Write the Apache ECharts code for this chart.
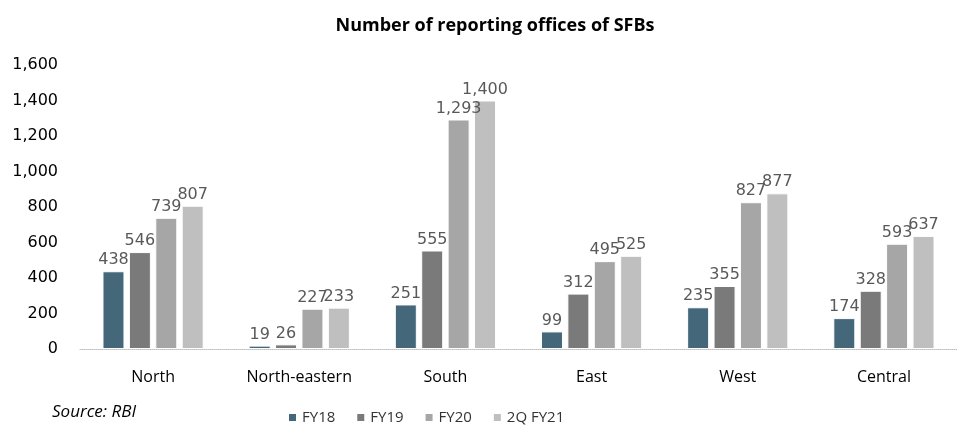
<!DOCTYPE html>
<html>
<head>
<meta charset="utf-8">
<script src="https://cdn.jsdelivr.net/npm/echarts@6/dist/echarts.min.js"></script>
<style>
  html, body { margin: 0; padding: 0; background: #fff; }
  #chart { width: 957px; height: 430px; }
</style>
</head>
<body>
<div id="chart"></div>
<script>
  // data
  var regions = ['North', 'North-eastern', 'South', 'East', 'West', 'Central'];
  var fy18 = [438, 19, 251, 99, 235, 174];
  var fy19 = [546, 26, 555, 312, 355, 328];
  var fy20 = [739, 227, 1293, 495, 827, 593];
  var fy21q2 = [807, 233, 1400, 525, 877, 637];
  var seriesNames = ['FY18', 'FY19', 'FY20', '2Q FY21'];
  var colors = ['#44677a', '#7a7a7a', '#a6a6a6', '#bfbfbf'];

  var chart = echarts.init(document.getElementById('chart'));

  function fmt(v) {
    return Number(v).toLocaleString('en-US');
  }

  var allData = [fy18, fy19, fy20, fy21q2];
  var series = allData.map(function (d, i) {
    return {
      name: seriesNames[i],
      type: 'bar',
      data: d,
      barWidth: 22,
      barGap: '20%',
      itemStyle: { color: colors[i], borderColor: '#fff', borderWidth: 1 },
      label: {
        show: true,
        position: 'top',
        distance: 3,
        color: '#595959',
        fontFamily: 'DejaVu Sans',
        fontSize: 16,
        formatter: function (p) { return fmt(p.value); }
      }
    };
  });

  chart.setOption({
    animation: false,
    color: colors,
    title: {
      text: 'Number of reporting offices of SFBs',
      left: 490,
      textAlign: 'center',
      top: 12,
      textStyle: { fontFamily: 'Open Sans', fontWeight: 'bold', fontSize: 18, color: '#000' }
    },
    graphic: [{
      type: 'text',
      left: 52,
      top: 404,
      style: { text: 'Source: RBI', font: 'italic 17px "Open Sans"', fill: '#000' }
    }],
    legend: {
      data: seriesNames,
      left: 282,
      top: 405,
      itemWidth: 9,
      itemHeight: 9,
      itemGap: 20,
      icon: 'rect',
      textStyle: { fontFamily: 'Open Sans', fontSize: 15, color: '#333' }
    },
    grid: { left: 80, right: 0, top: 65, bottom: 81, containLabel: false },
    xAxis: {
      type: 'category',
      data: regions,
      axisLine: { lineStyle: { color: '#bfbfbf', type: 'dotted' } },
      axisTick: { show: false },
      axisLabel: { fontFamily: 'Open Sans', fontSize: 16, color: '#000', margin: 20 }
    },
    yAxis: {
      type: 'value',
      min: 0,
      max: 1600,
      interval: 200,
      splitLine: { show: false },
      axisLine: { show: false },
      axisTick: { show: false },
      axisLabel: {
        fontFamily: 'DejaVu Sans',
        fontSize: 16,
        color: '#000',
        margin: 22,
        formatter: function (v) { return fmt(v); }
      }
    },
    series: series
  });
</script>
</body>
</html>
